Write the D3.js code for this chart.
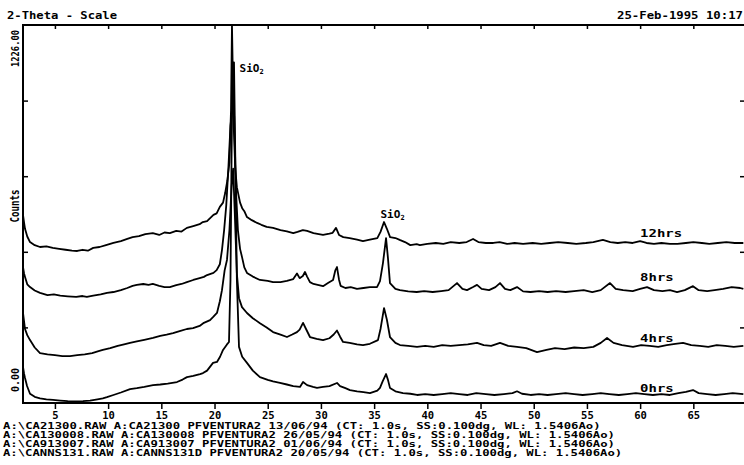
<!DOCTYPE html>
<html>
<head>
<meta charset="utf-8">
<script src="https://cdn.jsdelivr.net/npm/d3@7"></script>
<style>
  body { margin: 0; background: #fff; }
  svg { display: block; }
  text { font-family: "DejaVu Sans Mono", "Liberation Mono", monospace; font-weight: bold; fill: #000; }
</style>
</head>
<body>
<svg id="chart" width="744" height="465"></svg>
<script>
// Diffraction patterns (2-theta in degrees, counts as plotted)
const seriesNames = ["12hrs", "8hrs", "4hrs", "0hrs"];

const trace12 = [[2.00,610],[2.10,585],[2.19,565],[2.40,540],[2.66,522],[3.1,512],[3.6,506],[4.2,508],[4.8,503],[5.4,500],[6.0,497],[6.6,494],[7.1,493],[7.6,497],[8.1,494],[8.6,503],[9.2,506],[9.8,512],[10.5,519],[11.2,525],[11.8,532],[12.3,538],[12.9,541],[13.5,548],[14.2,551],[14.8,545],[15.3,553],[15.8,551],[16.4,558],[16.9,556],[17.4,568],[18.0,574],[18.6,580],[18.9,587],[19.3,590],[19.9,610],[20.2,615],[20.5,636],[20.8,650],[21.0,681],[21.2,720],[21.4,780],[21.55,950],[21.64,1226],[21.80,900],[21.95,760],[22.1,700],[22.4,650],[22.6,632],[22.8,622],[23.05,603],[23.5,593],[24.0,584],[24.4,578],[24.9,571],[25.5,568],[26.2,561],[26.8,557],[27.4,551],[27.8,555],[28.3,561],[28.7,558],[29.3,551],[29.8,548],[30.2,545],[30.8,549],[31.1,552],[31.42,568],[31.7,545],[32.1,538],[32.7,535],[33.4,530],[33.95,525],[34.6,530],[35.3,535],[35.6,555],[35.93,587],[36.2,565],[36.5,538],[37.0,535],[37.4,529],[37.9,522],[38.4,512],[39.0,515],[39.3,512],[40.0,516],[40.8,519],[41.5,516],[42.2,522],[43.0,519],[43.7,522],[44.3,532],[44.8,522],[45.5,519],[46.2,519],[46.8,522],[47.5,516],[48.2,519],[49.0,516],[49.9,519],[50.7,516],[51.5,519],[52.3,522],[53.2,519],[54.0,516],[54.9,519],[55.6,522],[56.5,529],[57.2,522],[57.9,519],[58.6,522],[59.3,519],[60.0,525],[60.6,519],[61.3,516],[62.0,519],[62.8,516],[63.5,516],[64.3,519],[65.0,522],[65.8,519],[66.5,516],[67.3,519],[68.1,522],[68.9,519],[69.7,519]];

const trace8 = [[2.00,441],[2.10,420],[2.19,409],[2.40,385],[2.66,376],[3.1,365],[3.6,357],[4.3,350],[4.9,352],[5.5,348],[6.2,346],[7.0,344],[7.6,347],[8.0,344],[8.6,348],[9.3,352],[9.9,357],[10.5,360],[11.2,366],[11.8,373],[12.3,380],[12.7,383],[13.3,386],[13.8,383],[14.2,386],[14.8,380],[15.3,376],[15.8,376],[16.4,382],[16.9,386],[17.4,392],[18.0,399],[18.6,405],[19.0,409],[19.3,415],[19.9,422],[20.2,431],[20.5,450],[20.7,496],[20.9,560],[21.1,640],[21.3,760],[21.5,900],[21.7,960],[21.85,930],[22.0,700],[22.2,560],[22.4,500],[22.58,474],[22.8,440],[23.05,422],[23.6,410],[24.27,399],[25.0,396],[25.5,392],[26.2,392],[26.8,396],[27.4,402],[27.75,420],[28.0,405],[28.3,412],[28.5,425],[28.7,410],[28.97,392],[29.3,386],[29.7,383],[30.2,379],[30.7,390],[31.14,399],[31.35,430],[31.51,441],[31.7,400],[31.85,380],[32.3,373],[32.8,376],[33.39,370],[34.0,373],[34.6,376],[35.27,376],[35.55,395],[35.83,454],[36.12,535],[36.3,470],[36.49,389],[37.0,370],[37.43,366],[38.2,362],[39.0,360],[39.7,363],[40.5,360],[41.3,363],[42.0,366],[42.79,389],[43.3,370],[43.73,366],[44.3,376],[44.67,383],[45.1,370],[45.8,366],[46.4,376],[46.83,389],[47.3,370],[47.8,366],[48.43,376],[49.0,362],[49.7,360],[50.5,363],[51.3,360],[52.1,363],[53.0,360],[53.8,363],[54.7,366],[55.5,360],[56.3,366],[57.17,389],[57.7,370],[58.4,366],[59.3,363],[60.0,370],[60.65,376],[61.3,366],[62.1,363],[62.8,366],[63.47,360],[64.2,366],[64.97,379],[65.5,366],[66.3,363],[67.0,366],[67.8,370],[68.6,376],[69.4,373],[69.7,370]];

const trace4 = [[2.00,292],[2.10,265],[2.19,240],[2.40,220],[2.66,204],[3.1,180],[3.6,162],[4.3,158],[5.0,155],[5.7,152],[6.42,152],[7.1,155],[7.8,158],[8.5,162],[9.1,168],[9.5,172],[10.2,178],[10.9,185],[11.5,190],[12.06,195],[12.7,200],[13.4,205],[14.22,211],[14.9,218],[15.5,222],[16.1,227],[16.8,234],[17.4,240],[17.98,243],[18.6,250],[19.0,260],[19.58,269],[19.9,280],[20.23,292],[20.5,330],[20.7,366],[20.95,430],[21.17,464],[21.4,560],[21.6,700],[21.75,760],[21.9,620],[22.1,420],[22.3,340],[22.58,311],[23.05,292],[23.6,275],[24.27,259],[24.9,245],[25.5,230],[26.2,222],[26.81,214],[27.3,222],[27.75,230],[28.0,238],[28.32,260],[28.6,240],[28.97,214],[29.6,208],[30.2,204],[30.8,210],[31.2,222],[31.51,235],[31.8,215],[32.08,198],[32.7,195],[33.39,190],[33.95,188],[34.6,192],[35.36,204],[35.6,240],[35.93,308],[36.2,270],[36.49,214],[37.0,195],[37.43,188],[38.2,185],[39.03,182],[39.8,185],[40.6,182],[41.4,188],[42.2,185],[43.0,188],[43.8,190],[44.67,195],[45.3,188],[46.0,185],[46.83,195],[47.6,185],[48.43,182],[49.3,178],[50.31,165],[51.2,172],[52.0,178],[52.9,175],[53.8,180],[54.7,178],[55.6,182],[56.3,195],[56.89,211],[57.5,195],[58.3,188],[59.33,182],[60.1,188],[60.9,185],[61.7,182],[62.5,188],[63.3,192],[64.03,195],[64.8,188],[65.6,185],[66.4,182],[67.2,188],[68.0,185],[68.8,182],[69.7,185]];

const trace0 = [[2.00,117],[2.10,95],[2.19,81],[2.38,55],[2.66,30],[3.1,20],[3.6,15],[4.2,12],[4.82,10],[5.5,8],[6.2,6],[7.0,5],[7.64,6],[8.3,8],[9.0,12],[9.5,15],[9.89,19],[10.5,26],[11.2,34],[12.06,45],[12.7,48],[13.4,52],[14.22,58],[14.9,60],[15.6,63],[16.47,68],[17.0,76],[17.41,84],[18.0,88],[18.64,94],[18.92,97],[19.3,105],[19.86,130],[20.23,133],[20.52,150],[20.80,172],[21.17,190],[21.36,198],[21.5,400],[21.6,800],[21.7,1105],[21.83,1105],[21.95,800],[22.1,400],[22.30,182],[22.6,150],[23.05,130],[23.6,105],[24.27,84],[25.0,75],[25.5,70],[26.15,65],[26.8,60],[27.4,55],[28.03,52],[28.32,68],[28.7,58],[29.26,52],[29.63,49],[30.2,52],[30.8,55],[31.51,65],[31.8,55],[32.3,48],[32.73,42],[33.4,38],[34.0,35],[34.61,32],[35.3,40],[35.55,49],[35.8,70],[36.12,94],[36.3,75],[36.49,49],[37.0,38],[37.71,32],[38.4,30],[39.03,26],[39.8,29],[40.6,26],[41.4,29],[42.2,32],[43.0,29],[43.8,26],[44.6,32],[45.5,29],[46.3,26],[47.2,29],[48.0,32],[48.43,38],[48.9,30],[49.7,26],[50.5,29],[51.3,26],[52.1,29],[53.0,32],[53.8,29],[54.6,26],[55.5,29],[56.3,32],[57.1,29],[58.0,26],[58.8,29],[59.6,32],[60.4,29],[61.2,26],[62.0,29],[62.8,26],[63.6,32],[64.3,36],[64.97,42],[65.5,32],[66.3,29],[67.1,26],[67.9,29],[68.7,32],[69.7,29]];

const traces = [trace12, trace8, trace4, trace0];

// Where each series name is written: [2-theta, counts]
const nameAnchors = [[60.0, 540], [60.0, 397], [60.0, 199], [60.0, 36]];

// Phase annotations: [2-theta, counts]
const peakLabels = [[22.35, 1075], [35.6, 600]];

const xTickValues = [5, 10, 15, 20, 25, 30, 35, 40, 45, 50, 55, 60, 65];
const yTickValues = [0, 245.2, 490.4, 735.6, 980.8, 1226];
const yLabelMax = "1226.00";
const yLabelMin = "0.00";

const headerLeft = "2-Theta - Scale";
const headerRight = "25-Feb-1995 10:17";
const fileLines = [
  "A:\\CA21300.RAW A:CA21300 PFVENTURA2 13/06/94 (CT:   1.0s, SS:0.100dg, WL: 1.5406Ao)",
  "A:\\CA130008.RAW A:CA130008 PFVENTURA2 26/05/94 (CT:   1.0s, SS:0.100dg, WL: 1.5406Ao)",
  "A:\\CA913007.RAW A:CA913007 PFVENTURA2 01/06/94 (CT:   1.0s, SS:0.100dg, WL: 1.5406Ao)",
  "A:\\CANNS131.RAW A:CANNS131D PFVENTURA2 20/05/94 (CT:   1.0s, SS:0.100dg, WL: 1.5406Ao)"
];

const svg = d3.select("#chart");
const plot = { left: 23, right: 746, top: 25, bottom: 403 };

const x = d3.scaleLinear().domain([2, 69.95]).range([plot.left, plot.right]);
const y = d3.scaleLinear().domain([0, 1226]).range([plot.bottom, plot.top]);

// Frame
svg.append("rect")
  .attr("x", plot.left).attr("y", plot.top)
  .attr("width", plot.right - plot.left).attr("height", plot.bottom - plot.top)
  .attr("fill", "none").attr("stroke", "#000").attr("stroke-width", 2);

// Bottom axis: ticks hang below the frame
const xAxis = svg.append("g")
  .attr("transform", `translate(0,${plot.bottom})`)
  .call(d3.axisBottom(x).tickValues(xTickValues).tickSize(6).tickPadding(3).tickFormat(d3.format("d")));
xAxis.select(".domain").remove();
xAxis.selectAll("line").attr("stroke", "#000").attr("stroke-width", 1.5);
xAxis.selectAll("text").attr("font-size", 10.5).attr("fill", "#000")
  .style("font-family", "'DejaVu Sans Mono', monospace").style("font-weight", "bold");

// Top axis: ticks point into the plot
const xTop = svg.append("g")
  .attr("transform", `translate(0,${plot.top})`)
  .call(d3.axisBottom(x).tickValues(xTickValues).tickSize(4).tickFormat(""));
xTop.select(".domain").remove();
xTop.selectAll("line").attr("stroke", "#000").attr("stroke-width", 1.5);

// Left and right axes: inward ticks
const yLeft = svg.append("g")
  .attr("transform", `translate(${plot.left},0)`)
  .call(d3.axisRight(y).tickValues(yTickValues.slice(1, -1)).tickSize(5).tickFormat(""));
yLeft.select(".domain").remove();
yLeft.selectAll("line").attr("stroke", "#000").attr("stroke-width", 1.5);

const yRight = svg.append("g")
  .attr("transform", `translate(${plot.right},0)`)
  .call(d3.axisLeft(y).tickValues(yTickValues.slice(1, -1)).tickSize(6).tickFormat(""));
yRight.select(".domain").remove();
yRight.selectAll("line").attr("stroke", "#000").attr("stroke-width", 1.5);

// Y labels, rotated
svg.append("text")
  .attr("transform", `translate(19,${y(1226) + 5}) rotate(-90)`)
  .attr("text-anchor", "end").attr("font-size", 10.5)
  .attr("textLength", 37).attr("lengthAdjust", "spacingAndGlyphs")
  .text(yLabelMax);
svg.append("text")
  .attr("transform", `translate(19,${y(0) - 11}) rotate(-90)`)
  .attr("text-anchor", "start").attr("font-size", 10.5)
  .attr("textLength", 24).attr("lengthAdjust", "spacingAndGlyphs")
  .text(yLabelMin);
svg.append("text")
  .attr("transform", `translate(19,206) rotate(-90)`)
  .attr("text-anchor", "middle").attr("font-size", 11.5)
  .attr("textLength", 33).attr("lengthAdjust", "spacingAndGlyphs")
  .text("Counts");

// Traces
const line = d3.line().x(d => x(d[0])).y(d => y(d[1]));
svg.append("g").selectAll("path")
  .data(traces)
  .join("path")
  .attr("d", line)
  .attr("fill", "none")
  .attr("stroke", "#000")
  .attr("stroke-width", 1.8)
  .attr("stroke-linejoin", "round");

// Series names
svg.append("g").selectAll("text")
  .data(seriesNames)
  .join("text")
  .attr("x", (d, i) => x(nameAnchors[i][0]))
  .attr("y", (d, i) => y(nameAnchors[i][1]))
  .attr("font-size", 11)
  .attr("textLength", d => d.length * 8.4)
  .attr("lengthAdjust", "spacingAndGlyphs")
  .text(d => d);

// SiO2 annotations
peakLabels.forEach(p => {
  const t = svg.append("text")
    .attr("x", x(p[0])).attr("y", y(p[1]))
    .attr("font-size", 11);
  t.append("tspan").text("SiO");
  t.append("tspan").attr("font-size", 7).attr("dy", 2).text("2");
});

// Header
svg.append("text").attr("x", 7).attr("y", 19).attr("font-size", 10.5)
  .attr("textLength", 110).attr("lengthAdjust", "spacingAndGlyphs").text(headerLeft);
svg.append("text").attr("x", 617).attr("y", 19).attr("font-size", 10.5)
  .attr("textLength", 126).attr("lengthAdjust", "spacingAndGlyphs").text(headerRight);

// File information lines
svg.append("g").selectAll("text")
  .data(fileLines)
  .join("text")
  .attr("x", 3)
  .attr("y", (d, i) => 428.5 + i * 9.3)
  .attr("font-size", 8)
  .attr("textLength", d => d.length * 7.2)
  .attr("lengthAdjust", "spacingAndGlyphs")
  .text(d => d);
</script>
</body>
</html>
